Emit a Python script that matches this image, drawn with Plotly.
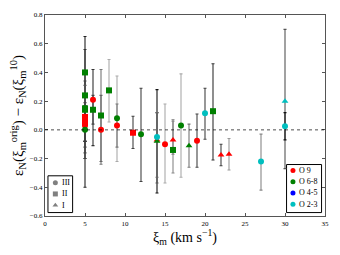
import plotly.graph_objects as go

# ---- data ----
xi_m = [5, 5, 5, 5, 5, 5, 5, 5, 5, 6, 6, 7, 7, 8, 9, 9, 11, 12, 14, 14, 14,
        15, 16, 16, 17, 18, 19, 20, 21, 22, 23, 27, 30, 30]
delta = [0.40, 0.24, 0.15, 0.14, 0.09, 0.07, 0.05, 0.03, 0.00, 0.21, 0.14,
         0.10, 0.00, 0.275, 0.08, 0.03, -0.02, -0.03, -0.05, -0.07, -0.08,
         -0.10, -0.07, -0.14, 0.03, -0.11, -0.075, 0.115, 0.13, -0.175,
         -0.17, -0.22, 0.20, 0.025]
err_plus = [0.25, 0.32, 0.19, 0.17, 0.10, 0.08, 0.09, 0.14, 0.17, 0.21, 0.10,
            0.32, 0.24, 0.215, 0.295, 0.15, 0.115, 0.32, 0.33, 0.19, 0.20,
            0.28, 0.14, 0.20, 0.36, 0.15, 0.185, 0.175, 0.33, 0.075, 0.11,
            0.19, 0.50, 0.095]
err_minus = [0.80, 0.36, 0.31, 0.34, 0.17, 0.15, 0.13, 0.11, 0.20, 0.32, 0.10,
             0.34, 0.22, 0.22, 0.30, 0.15, 0.11, 0.33, 0.39, 0.30, 0.25,
             0.27, 0.10, 0.16, 0.36, 0.15, 0.185, 0.18, 0.34, 0.075, 0.11,
             0.20, 0.47, 0.095]
spec_class = ["O 6-8", "O 6-8", "O 6-8", "O 6-8", "O 9", "O 9", "O 9", "O 9",
              "O 6-8", "O 9", "O 6-8", "O 6-8", "O 9", "O 6-8", "O 6-8", "O 9",
              "O 9", "O 6-8", "O 2-3", "O 9", "O 6-8", "O 9", "O 9", "O 6-8",
              "O 6-8", "O 6-8", "O 9", "O 2-3", "O 6-8", "O 9", "O 9", "O 2-3",
              "O 2-3", "O 2-3"]
lum_class = ["II", "II", "II", "II", "II", "II", "II", "III", "III", "III", "II",
             "II", "III", "II", "III", "III", "II", "III", "III", "I", "I",
             "III", "I", "II", "III", "I", "III", "III", "II", "I", "I", "III",
             "I", "III"]
spec_order = ["O 9", "O 6-8", "O 4-5", "O 2-3"]
lum_order = ["III", "II", "I"]

# ---- styles ----
bar_shade = ["#222", "#333", "#444", "#555", "#444", "#555", "#444", "#333",
             "#444", "#333", "#444", "#777", "#666", "#aaa", "#aaa", "#777",
             "#444", "#444", "#111", "#555", "#666", "#aaa", "#777", "#888",
             "#aaa", "#777", "#444", "#444", "#333", "#444", "#999", "#888",
             "#555", "#111"]
colors = {"O 9": "#ff0000", "O 6-8": "#008000", "O 4-5": "#0000ff", "O 2-3": "#00bfbf"}
symbols = {"III": "circle", "II": "square", "I": "triangle-up"}
serif = "Liberation Serif, DejaVu Serif, serif"

fig = go.Figure()

# error bars
for i in range(len(xi_m)):
    fig.add_trace(go.Scatter(
        x=[xi_m[i]], y=[delta[i]], mode="markers",
        marker=dict(size=1, opacity=0),
        error_y=dict(type="data", symmetric=False, array=[err_plus[i]],
                     arrayminus=[err_minus[i]], color=bar_shade[i],
                     thickness=1.1, width=1.5),
        showlegend=False, hoverinfo="skip"))

# markers
for s in spec_order:
    for l in lum_order:
        idx = [i for i in range(len(xi_m)) if spec_class[i] == s and lum_class[i] == l]
        if not idx:
            continue
        fig.add_trace(go.Scatter(
            x=[xi_m[i] for i in idx], y=[delta[i] for i in idx], mode="markers",
            marker=dict(color=colors[s], symbol=symbols[l], size=6,
                        line=dict(width=0)),
            showlegend=False))

fig.add_hline(y=0, line=dict(color="black", width=0.7, dash="dot"))

# ---- hand-drawn legends on an overlay axis in pixel-like units ----
PX_L, PX_R, PX_T, PX_B = 45, 329, 11, 216


def legend_box(x0, x1, y0, y1, names, marker_kw, row_ys, mx, tx):
    fig.add_shape(type="rect", xref="x2", yref="y2", x0=x0, x1=x1, y0=y0, y1=y1,
                  line=dict(color="black", width=1), fillcolor="white", layer="below")
    for name, ry in zip(names, row_ys):
        fig.add_trace(go.Scatter(x=[mx], y=[ry], mode="markers", xaxis="x2", yaxis="y2",
                                 marker=marker_kw(name), showlegend=False,
                                 hoverinfo="skip"))
        fig.add_annotation(x=tx, y=ry, xref="x2", yref="y2", text=name,
                           showarrow=False, xanchor="left", yanchor="middle",
                           font=dict(family=serif, size=8, color="black"))


legend_box(48, 73, 175, 212.5, lum_order,
           lambda n: dict(color="#808080", symbol=symbols[n], size=5),
           [182, 193.5, 205], 55.5, 60)
legend_box(290, 325.5, 163.5, 212.5, spec_order,
           lambda n: dict(color=colors[n], symbol="circle", size=5),
           [169.5, 181, 192.5, 204], 296.5, 300.5)

axis_common = dict(showline=True, mirror="ticks", linecolor="#555", linewidth=1.2,
                   ticks="inside", ticklen=3, tickcolor="#555", showgrid=False,
                   zeroline=False, ticklabeloverflow="allow",
                   tickfont=dict(family=serif, size=7, color="black"))

fig.update_layout(
    width=340, height=255,
    margin=dict(l=PX_L, r=340 - PX_R, t=PX_T, b=255 - PX_B),
    paper_bgcolor="white", plot_bgcolor="white",
    font=dict(family=serif, color="black"),
    showlegend=False,
    xaxis=dict(range=[0, 35], dtick=5, title=dict(
        text="ξ<sub>m</sub> (km s<sup>−1</sup>)", font=dict(family=serif, size=14),
        standoff=4), **axis_common),
    yaxis=dict(range=[-0.6, 0.8], dtick=0.2, tickformat=".1f", title=dict(
        text="ε<sub>N</sub>(ξ<sub>m</sub><sup>orig</sup>) − ε<sub>N</sub>(ξ<sub>m</sub><sup>10</sup>)",
        font=dict(family=serif, size=15), standoff=2), **axis_common),
    xaxis2=dict(overlaying="x", range=[PX_L, PX_R], visible=False, fixedrange=True),
    yaxis2=dict(overlaying="y", range=[PX_B, PX_T], visible=False, fixedrange=True),
)

fig.write_html("out.html", config={"displayModeBar": False},
               post_script="document.body.style.margin='0';document.body.style.overflow='hidden';")
